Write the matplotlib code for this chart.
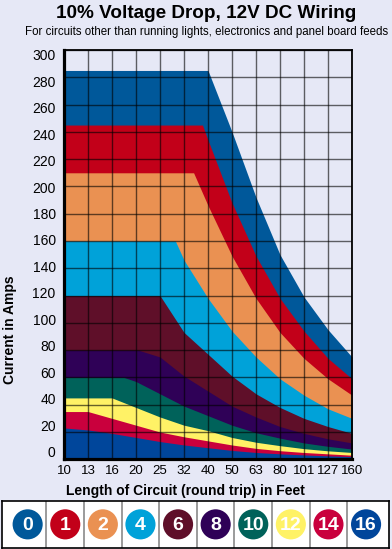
import numpy as np
import matplotlib
matplotlib.use("Agg")
import matplotlib.pyplot as plt

# length of circuit (round trip) in feet - equally spaced categories
lengths = ['10', '13', '16', '20', '25', '32', '40', '50', '63', '80', '101', '127', '160']
gauges = ['0', '1', '2', '4', '6', '8', '10', '12', '14', '16']
colors = ['#00589a', '#c20019', '#ea9152', '#00a2d9', '#5f0f29',
          '#2f0157', '#00625a', '#fff266', '#c9003d', '#00469b']

# max current (amps) for each gauge at each length
amps_0 = [285, 285, 285, 285, 285, 285, 285, 240, 192, 150, 119, 95, 75]
amps_1 = [245, 245, 245, 245, 245, 245, 234, 188, 149, 118, 94, 74, 59]
amps_2 = [210, 210, 210, 210, 210, 210, 186, 149, 118, 93, 74, 59, 47]
amps_4 = [160, 160, 160, 160, 160, 146, 118, 94, 75, 59, 47, 37, 30]
amps_6 = [120, 120, 120, 120, 120, 93, 77, 61, 48, 38, 30, 24, 19]
amps_8 = [80, 80, 80, 80, 75, 61, 50, 39, 31, 24, 19, 15, 12]
amps_10 = [60, 60, 60, 57, 48, 39, 32, 25, 19.5, 15.5, 12, 9.5, 7.5]
amps_12 = [45, 45, 45, 38, 31, 25, 21, 16, 12.5, 10, 7.8, 6.2, 5]
amps_14 = [35, 35, 30, 25, 20, 16.5, 13.5, 10.5, 8, 6.3, 5, 4, 3]
amps_16 = [23, 21.5, 19, 16, 13, 10.5, 8.5, 6.5, 5, 4, 3.2, 2.5, 2]
# where the flat (ampacity) part of each band ends, in category units
knee_at = [6, 5.77, 5.4, 4.64, 4.0, 3.1, 2.5, 2.0, 1.0, 0.0]

all_amps = [amps_0, amps_1, amps_2, amps_4, amps_6, amps_8,
            amps_10, amps_12, amps_14, amps_16]

bg = '#e6e8f6'
plt.rcParams['font.family'] = ['Liberation Sans', 'DejaVu Sans']

fig = plt.figure(figsize=(3.92, 5.49), dpi=100, facecolor=bg)
ax = fig.add_axes([64 / 392, 1 - 459.3 / 549, 288 / 392, 409.3 / 549])
ax.set_facecolor(bg)

xs = np.arange(len(lengths))
for amps, k, c in zip(all_amps, knee_at, colors):
    a = np.array(amps, dtype=float)
    x = np.r_[xs[xs <= k], k, xs[xs > k]]
    y = np.r_[a[xs <= k], a[0], a[xs > k]]
    ax.fill_between(x, 0, y, color=c, lw=0, zorder=1)

ax.set_xlim(0, len(lengths) - 1)
ax.set_ylim(0, 300)
ax.set_xticks(xs)
ax.set_xticklabels(lengths, fontsize=9.5)
ax.set_yticks(np.arange(0, 301, 20))
ax.tick_params(axis='x', length=0, pad=4)
ax.tick_params(axis='y', length=0, labelleft=False)
ax.grid(True, color='black', lw=1.0, alpha=0.6, zorder=3)
ax.set_axisbelow(False)
for s in ['left', 'bottom']:
    ax.spines[s].set_linewidth(2.3)
for s in ['top', 'right']:
    ax.spines[s].set_linewidth(1.3)

# y labels sit slightly off the grid lines in the original
lab = ax.twinx()
lab.set_ylim(-5.8, 303.6)
lab.set_yticks(np.arange(0, 301, 20))
lab.yaxis.tick_left()
lab.tick_params(axis='y', length=0, pad=6, labelsize=10)
for s in lab.spines.values():
    s.set_visible(False)

fig.text(206 / 392, 1 - 18.3 / 549, '10% Voltage Drop, 12V DC Wiring',
         ha='center', va='baseline', fontsize=13.6, fontweight='bold')
fig.text(207 / 392, 1 - 34.5 / 549,
         'For circuits other than running lights, electronics and panel board feeds',
         ha='center', va='baseline', fontsize=8.3)
fig.text(10 / 392, 1 - 330 / 549, 'Current in Amps', rotation=90,
         ha='center', va='center', fontsize=10, fontweight='bold')
fig.text(185 / 392, 1 - 491 / 549, 'Length of Circuit (round trip) in Feet',
         ha='center', va='center', fontsize=10, fontweight='bold')

# legend strip with gauge circles
leg = fig.add_axes([1.7 / 392, 1 - 548 / 549, 387.3 / 392, 47.3 / 549])
leg.set_facecolor('white')
leg.set_xlim(-0.69, 9.61)
leg.set_ylim(0, 1)
leg.set_xticks([])
leg.set_yticks([])
for s in leg.spines.values():
    s.set_linewidth(1.2)
for i in range(len(gauges) - 1):
    leg.axvline(i + 0.5, color='#8a8a8a', lw=1.2)
gx = np.arange(len(gauges))
leg.scatter(gx, np.full(len(gauges), 0.5), s=470, c=colors, lw=0, zorder=2)
for i, g in enumerate(gauges):
    leg.text(i, 0.47, g, ha='center', va='center', color='white',
             fontsize=14, fontweight='bold', zorder=3)

fig.savefig('out.png', dpi=100, facecolor=bg)
